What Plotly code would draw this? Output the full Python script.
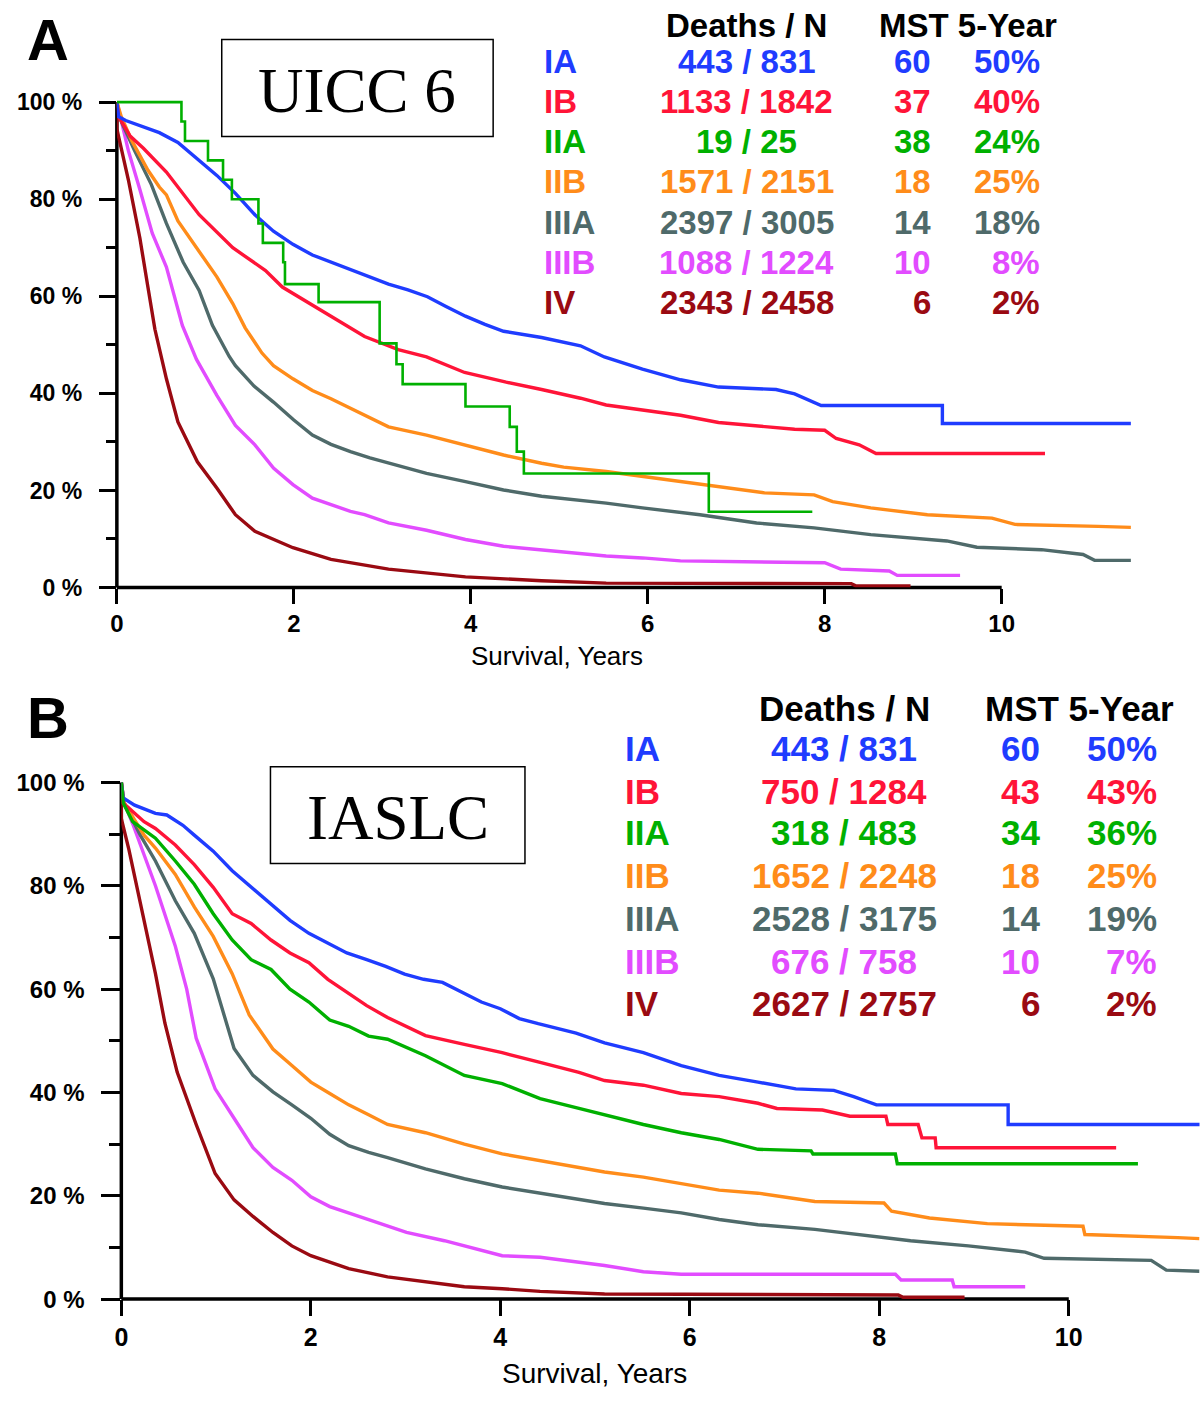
import plotly.graph_objects as go

W, H = 1201, 1402

stages = ["IA", "IB", "IIA", "IIB", "IIIA", "IIIB", "IV"]
colors = ["#1f3cff", "#ff1438", "#00b000", "#ff8c1a", "#4f6a6a", "#e24cff", "#9a0a12"]

# ---------------- Panel A (UICC 6) survival curves (years, %) ----------------
a_ia_t = [0, 0.02, 0.1, 0.48, 0.69, 0.91, 1.13, 1.34, 1.56, 1.77, 1.99, 2.21, 2.42, 2.64, 2.86, 3.07, 3.29, 3.51, 3.72,
          3.94, 4.16, 4.37, 4.8, 5.24, 5.51, 5.94, 6.37, 6.8, 7.45, 7.66, 7.96, 9.33, 9.33, 11.46]
a_ia_s = [100, 97, 96.2, 93.7, 91.7, 88.3, 84.9, 81.2, 76.8, 73.4, 70.7, 68.5, 67, 65.5, 64, 62.5, 61.3, 59.9, 57.9,
          55.9, 54.2, 52.8, 51.5, 49.8, 47.5, 45, 42.8, 41.3, 40.8, 39.9, 37.5, 37.5, 33.8, 33.8]

a_ib_t = [0, 0.02, 0.15, 0.3, 0.56, 0.93, 1.31, 1.68, 1.87, 2.24, 2.8, 3.18, 3.5, 3.93, 4.4, 4.8, 5.24, 5.53, 5.94,
          6.37, 6.8, 7.36, 7.66, 8.0, 8.13, 8.39, 8.58, 10.49]
a_ib_s = [100, 97, 93, 90.5, 85.6, 76.8, 70, 65.3, 61.9, 57.8, 51.7, 49, 47.5, 44.3, 42.3, 40.8, 39, 37.6, 36.5,
          35.5, 34, 33.1, 32.6, 32.4, 30.7, 29.4, 27.6, 27.6]

a_iia_t = [0, 0.73, 0.77, 1.03, 1.2, 1.3, 1.6, 1.65, 1.88, 1.9, 2.28, 2.97, 3.16, 3.23, 3.94, 4.44, 4.52, 4.6, 6.69, 7.86]
a_iia_s = [100, 96, 92, 88, 84, 80, 75, 71, 67, 62.5, 58.8, 50.3, 46, 41.9, 37.3, 33.1, 28, 23.5, 15.6, 15.6]

a_iib_t = [0, 0.05, 0.17, 0.35, 0.48, 0.56, 0.69, 0.93, 1.13, 1.31, 1.45, 1.64, 1.77, 1.99, 2.21, 2.42, 2.64, 2.8,
           3.07, 3.5, 3.93, 4.37, 4.8, 5.05, 5.53, 5.94, 6.37, 6.8, 7.32, 7.88, 8.09, 8.52, 9.16, 9.89, 10.15, 11.09, 11.46]
a_iib_s = [100, 97, 92, 86, 82.5, 80.9, 75.5, 69.3, 64, 58.5, 53.5, 48.3, 45.7, 43, 40.6, 38.9, 36.9, 35.4,
           33.1, 31.4, 29.3, 27.3, 25.6, 24.8, 23.9, 22.9, 21.8, 20.8, 19.5, 19.1, 17.7, 16.4, 15, 14.3, 13, 12.6, 12.4]

a_iiia_t = [0, 0.05, 0.2, 0.39, 0.56, 0.75, 0.93, 1.08, 1.27, 1.34, 1.55, 1.77, 2.0, 2.21, 2.42, 2.64, 2.86, 3.07,
            3.5, 3.94, 4.37, 4.8, 5.24, 5.53, 5.94, 6.59, 7.23, 7.88, 8.52, 9.38, 9.72, 10.45, 10.92, 11.05, 11.46]
a_iiia_s = [100, 96, 90, 83, 75, 67, 61.2, 54, 47.6, 45.7, 41.5, 38.2, 34.5, 31.4, 29.5, 28, 26.7, 25.6,
            23.5, 21.8, 20.1, 18.8, 18, 17.4, 16.4, 15, 13.3, 12.3, 10.9, 9.6, 8.3, 7.8, 6.8, 5.6, 5.6]

a_iiib_t = [0, 0.05, 0.13, 0.26, 0.4, 0.56, 0.74, 0.9, 1.13, 1.34, 1.56, 1.77, 1.99, 2.21, 2.64, 2.8, 3.07, 3.5, 3.94,
            4.37, 4.8, 5.53, 5.94, 6.37, 8.0, 8.18, 8.73, 8.82, 9.53]
a_iiib_s = [100, 96, 90, 82, 73, 66, 54, 47, 39.6, 33.4, 29.4, 24.6, 21.2, 18.4, 15.7, 15, 13.3, 11.8, 9.9,
            8.5, 7.8, 6.5, 6.1, 5.5, 5.1, 3.8, 3.4, 2.5, 2.5]

a_iv_t = [0, 0, 0.13, 0.26, 0.35, 0.43, 0.56, 0.69, 0.91, 1.13, 1.34, 1.56, 1.99, 2.42, 3.07, 3.94, 4.8, 5.53, 8.3,
          8.35, 8.97]
a_iv_s = [100, 94.5, 84, 72, 62, 53.2, 43, 34.1, 25.9, 20.5, 15, 11.6, 8.2, 5.8, 3.8, 2.2, 1.4, 0.9, 0.8,
          0.35, 0.35]

# ---------------- Panel B (IASLC) survival curves ----------------
b_ia_t = [0, 0.02, 0.14, 0.36, 0.48, 0.65, 0.77, 0.97, 1.17, 1.37, 1.58, 1.78, 1.98, 2.18, 2.38, 2.59, 2.79, 2.99,
          3.19, 3.39, 3.6, 3.8, 4.0, 4.2, 4.4, 4.8, 5.1, 5.51, 5.91, 6.31, 6.72, 7.12, 7.52, 7.73, 7.97, 9.36, 9.36,
          11.45]
b_ia_s = [100, 97, 95.6, 94, 93.7, 91.7, 89.8, 86.7, 82.9, 79.7, 76.5, 73.3, 70.8, 68.9, 67, 65.7, 64.4, 62.9,
          61.9, 61.3, 59.4, 57.5, 56.2, 54.3, 53.3, 51.5, 49.6, 47.7, 45.2, 43.3, 42, 40.7, 40.4, 39.2, 37.6, 37.6, 33.8,
          33.8]

b_ib_t = [0, 0.02, 0.24, 0.36, 0.57, 0.77, 0.97, 1.17, 1.37, 1.58, 1.78, 1.98, 2.18, 2.38, 2.59, 2.81, 3.21, 3.62,
          4.02, 4.42, 4.83, 5.1, 5.51, 5.91, 6.31, 6.72, 6.92, 7.4, 7.69, 8.07, 8.09, 8.41, 8.45, 8.59, 8.6, 10.5]
b_ib_s = [100, 96, 92.4, 91.1, 87.9, 84.1, 79.7, 74.6, 72.7, 69.5, 67, 65.1, 61.9, 59.4, 56.8, 54.5, 51, 49.3,
          47.7, 45.8, 43.9, 42.3, 41.4, 39.8, 39.2, 37.9, 36.9, 36.6, 35.4, 35.4, 33.8, 33.8, 31.2, 31.2, 29.3, 29.3]

b_iia_t = [0, 0.02, 0.12, 0.36, 0.57, 0.77, 0.97, 1.17, 1.37, 1.58, 1.78, 1.98, 2.2, 2.4, 2.61, 2.81, 3.21, 3.62,
           4.02, 4.42, 4.83, 5.1, 5.51, 5.91, 6.31, 6.72, 7.28, 7.3, 8.17, 8.19, 10.73]
b_iia_s = [100, 96, 92.4, 89.2, 84.8, 80.3, 74.6, 69.5, 65.7, 63.8, 60, 57.5, 54, 52.8, 50.9, 50.3, 47.1, 43.3,
           41.7, 38.8, 36.9, 35.7, 33.8, 32.2, 30.9, 29, 28.7, 28.1, 28.1, 26.2, 26.2]

b_iib_t = [0, 0.03, 0.24, 0.36, 0.57, 0.77, 0.97, 1.17, 1.35, 1.6, 1.8, 2.0, 2.2, 2.4, 2.61, 2.81, 3.21, 3.62, 4.02,
           4.42, 4.83, 5.1, 5.51, 5.91, 6.31, 6.72, 7.32, 8.05, 8.13, 8.53, 9.14, 10.15, 10.17, 11.15, 11.38]
b_iib_s = [100, 96, 89.8, 87.3, 82.2, 75.9, 70.2, 63, 55, 48.4, 45.2, 42, 39.8, 37.6, 35.7, 33.8, 32.2, 30, 28.1,
           26.8, 25.5, 24.6, 23.6, 22.4, 21.1, 20.5, 18.9, 18.6, 17, 15.7, 14.6, 14.1, 12.5, 11.9, 11.7]

b_iiia_t = [0, 0.03, 0.2, 0.36, 0.57, 0.77, 0.97, 1.1, 1.19, 1.39, 1.6, 1.8, 2.0, 2.2, 2.4, 2.61, 2.81, 3.21, 3.62,
            4.02, 4.42, 4.83, 5.1, 5.51, 5.91, 6.31, 6.72, 7.32, 7.93, 8.33, 8.94, 9.54, 9.74, 10.87, 11.03, 11.38]
b_iiia_s = [100, 96, 89.8, 84.8, 77.1, 70.8, 62, 54, 48.5, 43.3, 40.1, 37.6, 35, 31.9, 29.7, 28.4, 27.4, 25.2, 23.3,
            21.7, 20.5, 19.2, 18.5, 17.6, 16.7, 15.4, 14.4, 13.5, 12.2, 11.3, 10.3, 9.1, 7.9, 7.5, 5.6, 5.4]

b_iiib_t = [0, 0.03, 0.12, 0.24, 0.36, 0.57, 0.69, 0.79, 0.99, 1.19, 1.39, 1.6, 1.8, 2.0, 2.2, 2.61, 3.01, 3.41,
            3.82, 4.02, 4.42, 4.83, 5.1, 5.51, 5.91, 8.17, 8.23, 8.77, 8.79, 9.54]
b_iiib_s = [100, 96, 92, 86, 80, 68.3, 60, 50.5, 40.7, 35, 29.3, 25.5, 23, 19.8, 17.9, 15.4, 12.9, 11.3,
            9.4, 8.4, 8.1, 7.2, 6.5, 5.3, 4.8, 4.8, 3.7, 3.7, 2.4, 2.4]

b_iv_t = [0, 0, 0.08, 0.2, 0.36, 0.46, 0.59, 0.79, 0.99, 1.19, 1.39, 1.6, 1.8, 2.0, 2.4, 2.81, 3.21, 3.62, 4.02,
          4.42, 5.1, 6.5, 8.2, 8.25, 8.9]
b_iv_s = [100, 93, 87, 77, 63, 53.4, 43.9, 33.8, 24.3, 19.2, 16, 12.9, 10.3, 8.4, 5.9, 4.3, 3.4, 2.4, 2,
          1.5, 1.0, 0.9, 0.8, 0.35, 0.35]

# ---------------- Table values ----------------
a_deaths = [443, 1133, 19, 1571, 2397, 1088, 2343]
a_n = [831, 1842, 25, 2151, 3005, 1224, 2458]
a_mst = [60, 37, 38, 18, 14, 10, 6]
a_5yr = [50, 40, 24, 25, 18, 8, 2]

b_deaths = [443, 750, 318, 1652, 2528, 676, 2627]
b_n = [831, 1284, 483, 2248, 3175, 758, 2757]
b_mst = [60, 43, 34, 18, 14, 10, 6]
b_5yr = [50, 43, 36, 25, 19, 7, 2]

x_ticks = [0, 2, 4, 6, 8, 10]

curves_a = [(a_ia_t, a_ia_s), (a_ib_t, a_ib_s), (a_iia_t, a_iia_s), (a_iib_t, a_iib_s),
            (a_iiia_t, a_iiia_s), (a_iiib_t, a_iiib_s), (a_iv_t, a_iv_s)]
curves_b = [(b_ia_t, b_ia_s), (b_ib_t, b_ib_s), (b_iia_t, b_iia_s), (b_iib_t, b_iib_s),
            (b_iiia_t, b_iiia_s), (b_iiib_t, b_iiib_s), (b_iv_t, b_iv_s)]

# ---------------- Geometry (pixels) ----------------
SANS = "Liberation Sans, Arial, sans-serif"
SERIF = "Liberation Serif, Times New Roman, serif"

geo = {
    "A": dict(x0=110.5, sx=89.0, xmax=12.1, y0=590.7, sy=4.914, ymax=101.8),
    "B": dict(x0=115.0, sx=95.3, xmax=11.38, y0=1311.0, sy=5.23, ymax=101.8),
}


def xdom(g):
    return [g["x0"] / W, (g["x0"] + g["xmax"] * g["sx"]) / W]


def ydom(g):
    return [1 - g["y0"] / H, 1 - (g["y0"] - g["ymax"] * g["sy"]) / H]


def px(x):
    return x / W


def py(y):
    return 1 - y / H


fig = go.Figure()

draw_order = [6, 5, 4, 3, 1, 0, 2]
for panel, curves, xa, ya in (("A", curves_a, "x", "y"), ("B", curves_b, "x2", "y2")):
    for i in draw_order:
        t, s = curves[i]
        step = (panel == "A" and i == 2)
        fig.add_trace(go.Scatter(
            x=t, y=s, mode="lines", name=stages[i], xaxis=xa, yaxis=ya,
            line=dict(color=colors[i], width=2.6 if step else 3.4, shape="hv" if step else "linear"),
            showlegend=False, hoverinfo="skip"))

for key, sfx, tsize, ysize, ylen, xlen in (("A", "", 24, 23, 17, 15), ("B", "2", 25, 24, 19, 16)):
    g = geo[key]
    fig.layout["xaxis" + sfx] = dict(
        domain=xdom(g), range=[0, g["xmax"]], anchor="y" + sfx,
        showgrid=False, zeroline=False, showline=False,
        tickmode="array", tickvals=x_ticks, ticks="outside", ticklen=xlen, tickwidth=3, tickcolor="black",
        tickfont=dict(family=SANS, size=tsize, color="black", weight="bold"))
    fig.layout["yaxis" + sfx] = dict(
        domain=ydom(g), range=[0, g["ymax"]], anchor="x" + sfx,
        showgrid=False, zeroline=False, showline=False,
        tickmode="linear", tick0=0, dtick=20, ticksuffix=" %", ticks="outside", ticklen=ylen, tickwidth=3,
        tickcolor="black", ticklabelstandoff=12,
        tickfont=dict(family=SANS, size=ysize, color="black", weight="bold"),
        minor=dict(ticks="outside", ticklen=int(ylen * 0.6), tickwidth=3, tickcolor="black", dtick=10, tick0=0,
                   showgrid=False))
    # axis lines (x stops at 10 years, y at 100 %)
    fig.add_shape(type="line", xref="x" + sfx + " domain", yref="y" + sfx + " domain",
                  x0=0, x1=10 / g["xmax"], y0=0, y1=0, line=dict(color="black", width=3.5), layer="below")
    fig.add_shape(type="line", xref="x" + sfx + " domain", yref="y" + sfx + " domain",
                  x0=0, x1=0, y0=0, y1=100 / g["ymax"], line=dict(color="black", width=3.5), layer="below")

annotations = []


def add_text(x, y, text, size, color="black", anchor="center", family=SANS, bold=True):
    annotations.append(dict(
        x=px(x), y=py(y), xref="paper", yref="paper", text=text, showarrow=False,
        xanchor=anchor, yanchor="middle",
        font=dict(family=family, size=size, color=color, weight="bold" if bold else "normal")))


# Panel letters
add_text(41, 36, "A", 58)
add_text(41, 722, "B", 58)

# Axis titles
add_text(553, 660, "Survival, Years", 26, bold=False)
add_text(591, 1386, "Survival, Years", 28, bold=False)

# Title boxes
fig.add_shape(type="rect", xref="paper", yref="paper", x0=px(216), x1=px(489), y0=py(134), y1=py(36),
              line=dict(color="black", width=1.5))
add_text(352.5, 88, "UICC 6", 63, family=SERIF, bold=False)
fig.add_shape(type="rect", xref="paper", yref="paper", x0=px(265), x1=px(521), y0=py(870), y1=py(772),
              line=dict(color="black", width=1.5))
add_text(393, 824, "IASLC", 63, family=SERIF, bold=False)

# Tables
tables = [
    dict(hy=22, rows=[58, 99, 139, 180, 221, 262, 302], xs=538, xd=744, xm=931, x5=1041, xh2=875, size=33,
         deaths=a_deaths, n=a_n, mst=a_mst, five=a_5yr),
    dict(hy=713, rows=[754, 797, 839, 882, 926, 969, 1012], xs=620, xd=842, xm=1041, x5=1159, xh2=982, size=35,
         deaths=b_deaths, n=b_n, mst=b_mst, five=b_5yr),
]
for tb in tables:
    add_text(tb["xd"], tb["hy"], "Deaths / N", tb["size"])
    add_text(tb["xh2"], tb["hy"], "MST 5-Year", tb["size"], anchor="left")
    for i, yy in enumerate(tb["rows"]):
        c = colors[i]
        add_text(tb["xs"], yy, stages[i], tb["size"], color=c, anchor="left")
        add_text(tb["xd"], yy, f"{tb['deaths'][i]} / {tb['n'][i]}", tb["size"], color=c)
        add_text(tb["xm"], yy, str(tb["mst"][i]), tb["size"], color=c, anchor="right")
        add_text(tb["x5"], yy, f"{tb['five'][i]}%", tb["size"], color=c, anchor="right")

fig.update_layout(
    width=W, height=H, margin=dict(l=0, r=0, t=0, b=0),
    paper_bgcolor="white", plot_bgcolor="white",
    annotations=annotations, showlegend=False)

fig.write_html("out.html")
